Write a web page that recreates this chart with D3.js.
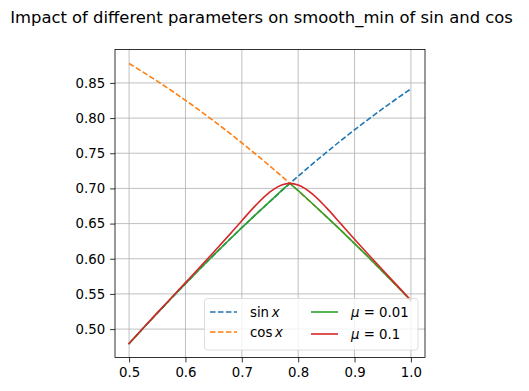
<!DOCTYPE html>
<html><head><meta charset="utf-8">
<script src="https://cdn.jsdelivr.net/npm/d3@7"></script>
<style>
body{margin:0;background:#fff;}
svg{display:block;font-family:"DejaVu Sans",sans-serif;}
</style></head>
<body><svg id="c" width="529" height="391"></svg>
<script>
const xs       = [0.5,0.525,0.55,0.575,0.6,0.625,0.65,0.675,0.7,0.725,0.75,0.775,0.7854,0.8,0.825,0.85,0.875,0.9,0.925,0.95,0.975,1.0];
const sinVals  = [0.4794,0.5012,0.5227,0.5438,0.5646,0.5851,0.6052,0.6249,0.6442,0.6631,0.6816,0.6997,0.7071,0.7174,0.7346,0.7513,0.7676,0.7833,0.7986,0.8134,0.8277,0.8415];
const cosVals  = [0.8776,0.8653,0.8525,0.8392,0.8253,0.8110,0.7961,0.7807,0.7648,0.7485,0.7317,0.7144,0.7071,0.6967,0.6785,0.6600,0.6410,0.6216,0.6019,0.5817,0.5612,0.5403];
const mu001    = [0.4794,0.5012,0.5227,0.5438,0.5646,0.5851,0.6052,0.6249,0.6442,0.6631,0.6816,0.7004,0.7071,0.6970,0.6785,0.6600,0.6410,0.6216,0.6019,0.5817,0.5612,0.5403];
const mu01     = [0.4795,0.5015,0.5231,0.5446,0.5660,0.5875,0.6093,0.6315,0.6541,0.6762,0.6951,0.7060,0.7071,0.7049,0.6923,0.6727,0.6503,0.6277,0.6057,0.5839,0.5625,0.5410];
const xTicks   = [0.5,0.6,0.7,0.8,0.9,1.0];
const yTicks   = [0.50,0.55,0.60,0.65,0.70,0.75,0.80,0.85];
const title    = "Impact of different parameters on smooth_min of sin and cos";

const svg = d3.select("#c");
const L=115,R=425,T=49.5,B=357.5;
const x = d3.scaleLinear().domain([0.475,1.025]).range([L,R]);
const y = d3.scaleLinear().domain([0.45959,0.89751]).range([B,T]);

// grid
const g = svg.append("g");
g.selectAll(".gx").data(xTicks).join("line")
 .attr("x1",d=>x(d)).attr("x2",d=>x(d)).attr("y1",T).attr("y2",B)
 .attr("stroke","#b0b0b0").attr("stroke-width",0.8);
g.selectAll(".gy").data(yTicks).join("line")
 .attr("y1",d=>y(d)).attr("y2",d=>y(d)).attr("x1",L).attr("x2",R)
 .attr("stroke","#b0b0b0").attr("stroke-width",0.8);

const series = [
 {vals:sinVals,color:"#1f77b4",dash:"5.55,2.4",curve:d3.curveLinear},
 {vals:cosVals,color:"#ff7f0e",dash:"5.55,2.4",curve:d3.curveLinear},
 {vals:mu001,color:"#2ca02c",dash:null,curve:d3.curveLinear},
 {vals:mu01,color:"#d62728",dash:null,curve:d3.curveMonotoneX}
];
series.forEach(s=>{
  const line = d3.line().x((d,i)=>x(xs[i])).y(d=>y(d)).curve(s.curve);
  svg.append("path").attr("d",line(s.vals)).attr("fill","none")
   .attr("stroke",s.color).attr("stroke-width",1.6)
   .attr("stroke-dasharray",s.dash).attr("stroke-linecap",s.dash?"butt":"square");
});

// axes
const xa = svg.append("g").attr("transform",`translate(0,${B})`)
 .call(d3.axisBottom(x).tickValues(xTicks).tickFormat(d3.format(".1f")).tickSize(4.9).tickPadding(4.9));
const ya = svg.append("g").attr("transform",`translate(${L},0)`)
 .call(d3.axisLeft(y).tickValues(yTicks).tickFormat(d3.format(".2f")).tickSize(4.9).tickPadding(4.9));
[xa,ya].forEach(a=>{
  a.select(".domain").remove();
  a.selectAll("text").attr("font-size",13.3).attr("fill","#000").attr("font-family","DejaVu Sans");
  a.selectAll("line").attr("stroke","#000").attr("stroke-width",0.8);
});
svg.append("rect").attr("x",L).attr("y",T).attr("width",R-L).attr("height",B-T)
 .attr("fill","none").attr("stroke","#000").attr("stroke-width",0.8);

// title
svg.append("text").attr("x",261.5).attr("y",23).attr("text-anchor","middle")
 .attr("font-size",16.4).attr("fill","#000").text(title);

// legend
const lg = svg.append("g");
lg.append("rect").attr("x",204.5).attr("y",298.5).attr("width",213.5).attr("height",51.5)
 .attr("rx",3).attr("fill","#fff").attr("fill-opacity",0.8).attr("stroke","#d5d5d5").attr("stroke-width",0.8);
const entries = [
 {c:"#1f77b4",dash:"5.55,2.4",x0:210,y0:312,lab:[["sin",""],["\u2009",""],["x","italic"]]},
 {c:"#ff7f0e",dash:"5.55,2.4",x0:210,y0:332,lab:[["cos",""],["\u2009",""],["x","italic"]]},
 {c:"#2ca02c",dash:null,x0:311,y0:312,lab:[["\u03bc","italic"],[" = 0.01",""]]},
 {c:"#d62728",dash:null,x0:311,y0:334,lab:[["\u03bc","italic"],[" = 0.1",""]]}
];
entries.forEach(e=>{
  lg.append("line").attr("x1",e.x0).attr("x2",e.x0+27).attr("y1",e.y0).attr("y2",e.y0)
   .attr("stroke",e.c).attr("stroke-width",1.6).attr("stroke-dasharray",e.dash);
  const t = lg.append("text").attr("x",e.x0+40).attr("y",e.y0+4.5).attr("font-size",13.3).attr("fill","#000");
  e.lab.forEach(p=>t.append("tspan").attr("font-style",p[1]||null).text(p[0]));
});
</script></body></html>
